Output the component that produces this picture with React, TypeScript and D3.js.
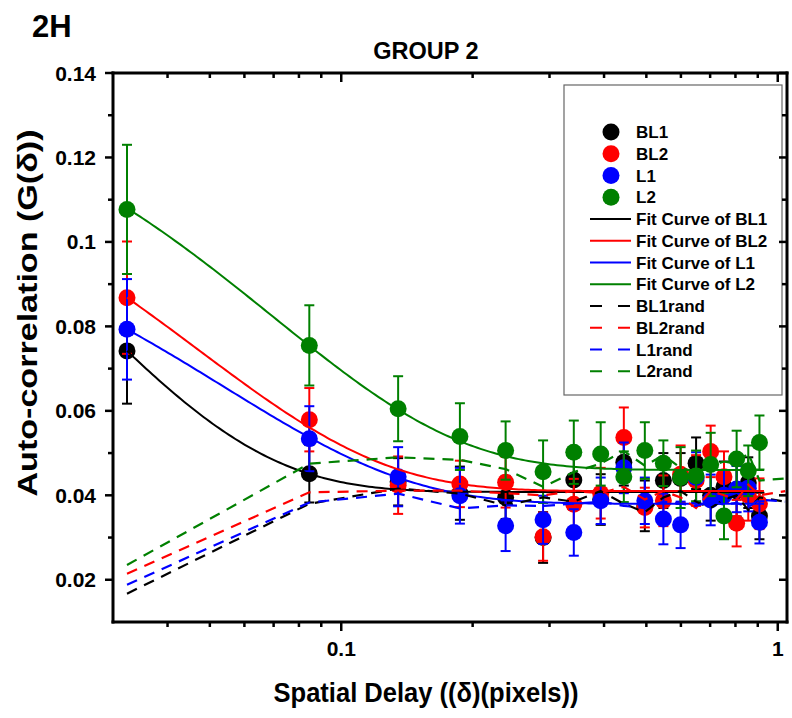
import React from 'react';
import * as d3 from 'd3';

// ---------- data ----------
const xValues = [0.0323, 0.0845, 0.135, 0.187, 0.238, 0.29, 0.341, 0.393, 0.444, 0.496, 0.547, 0.599, 0.65, 0.702, 0.753, 0.805, 0.856, 0.908];

const bl1Values = [0.0742, 0.0451, 0.0432, 0.0405, 0.0395, 0.0300, 0.0436, 0.0390, 0.0478, 0.0375, 0.0435, 0.0440, 0.0476, 0.0400, 0.0420, 0.0410, 0.0430, 0.0351];
const bl1Errors = [0.0125, 0.0068, 0.0056, 0.0063, 0.0051, 0.006, 0.006, 0.006, 0.0055, 0.006, 0.0065, 0.006, 0.0061, 0.006, 0.006, 0.006, 0.006, 0.0055];
const bl2Values = [0.0868, 0.0579, 0.0424, 0.0427, 0.0431, 0.0302, 0.0379, 0.0405, 0.0537, 0.0371, 0.0387, 0.0450, 0.0435, 0.0504, 0.0444, 0.0334, 0.0400, 0.0380];
const bl2Errors = [0.0133, 0.0075, 0.0068, 0.0055, 0.006, 0.0057, 0.006, 0.006, 0.0071, 0.0047, 0.006, 0.0068, 0.006, 0.0061, 0.006, 0.0055, 0.006, 0.006];
const l1Values = [0.0793, 0.0534, 0.0444, 0.0399, 0.0328, 0.0342, 0.0312, 0.0387, 0.0465, 0.0387, 0.0344, 0.0330, 0.0442, 0.0389, 0.0400, 0.0415, 0.0417, 0.0336];
const l1Errors = [0.0119, 0.0077, 0.007, 0.0066, 0.006, 0.0057, 0.0055, 0.0055, 0.006, 0.0055, 0.006, 0.0055, 0.006, 0.006, 0.006, 0.0055, 0.0055, 0.005];
const l2Values = [0.1077, 0.0755, 0.0605, 0.0539, 0.0506, 0.0456, 0.0502, 0.0498, 0.0444, 0.0506, 0.0476, 0.0442, 0.0446, 0.0473, 0.0351, 0.0486, 0.0458, 0.0525];
const l2Errors = [0.0153, 0.0095, 0.0077, 0.0079, 0.0069, 0.0074, 0.0075, 0.0075, 0.006, 0.0067, 0.0054, 0.0072, 0.006, 0.0075, 0.0055, 0.0067, 0.006, 0.0064];

const randX = [0.0323, 0.0845, 0.135, 0.187, 0.238, 0.29, 0.341, 0.393, 0.444, 0.496, 0.547, 0.599, 0.65, 0.702, 0.753, 0.805, 0.856, 0.908, 1.04];
const bl1Rand = [0.0167, 0.0380, 0.0416, 0.0404, 0.0376, 0.0395, 0.0385, 0.0410, 0.0380, 0.0360, 0.0395, 0.0410, 0.0385, 0.0370, 0.0390, 0.0400, 0.0365, 0.0395, 0.0385];
const bl2Rand = [0.0214, 0.0407, 0.0411, 0.0411, 0.0405, 0.0400, 0.0410, 0.0405, 0.0420, 0.0390, 0.0410, 0.0395, 0.0370, 0.0410, 0.0400, 0.0390, 0.0425, 0.0400, 0.0410];
const l1Rand = [0.0188, 0.0383, 0.0404, 0.0369, 0.0376, 0.0375, 0.0380, 0.0385, 0.0375, 0.0370, 0.0385, 0.0380, 0.0375, 0.0385, 0.0378, 0.0382, 0.0372, 0.0390, 0.0385];
const l2Rand = [0.0235, 0.0475, 0.0490, 0.0484, 0.0462, 0.0420, 0.0455, 0.0475, 0.0505, 0.0470, 0.0495, 0.0465, 0.0455, 0.0470, 0.0480, 0.0475, 0.0500, 0.0435, 0.0440];

// fit curves: y = y0 + A * exp(-(x - x0) / t)
const fitX0 = 0.0323;
const fitXEnd = 0.93;
const fitY0 = [0.0408, 0.041, 0.038, 0.046];
const fitA = [0.0334, 0.0458, 0.0413, 0.062];
const fitT = [0.0254, 0.047, 0.054, 0.070];

const seriesNames = ['BL1', 'BL2', 'L1', 'L2'];
const seriesColors = ['#000000', '#ff0000', '#0000ff', '#008000'];

const yTicks = [0.02, 0.04, 0.06, 0.08, 0.1, 0.12, 0.14];
const yTickLabels = ['0.02', '0.04', '0.06', '0.08', '0.1', '0.12', '0.14'];
const yMinorTicks = [0.03, 0.05, 0.07, 0.09, 0.11, 0.13];
const xTicks = [0.1, 1];
const xTickLabels = ['0.1', '1'];
const xMinorTicks = [0.04, 0.05, 0.06, 0.07, 0.08, 0.09, 0.2, 0.3, 0.4, 0.5, 0.6, 0.7, 0.8, 0.9];

const legendLabels = ['BL1', 'BL2', 'L1', 'L2', 'Fit Curve of BL1', 'Fit Curve of BL2', 'Fit Curve of L1', 'Fit Curve of L2', 'BL1rand', 'BL2rand', 'L1rand', 'L2rand'];

// ---------- layout ----------
const W = 792;
const H = 718;
const left = 113, right = 787, top = 73, bottom = 622;
const FONT = '"Liberation Sans", Arial, sans-serif';

export default function App() {
  const x = d3.scaleLog().domain([0.03, 1.05]).range([left, right]);
  const y = d3.scaleLinear().domain([0.01, 0.14]).range([bottom, top]);

  const series = seriesNames.map((name, i) => ({
    name,
    color: seriesColors[i],
    values: [bl1Values, bl2Values, l1Values, l2Values][i],
    errors: [bl1Errors, bl2Errors, l1Errors, l2Errors][i],
    rand: [bl1Rand, bl2Rand, l1Rand, l2Rand][i],
    y0: fitY0[i], A: fitA[i], t: fitT[i],
  }));

  const lineGen = d3.line<[number, number]>().x(d => x(d[0])).y(d => y(d[1]));

  const fitXs = d3.range(0, 201).map(k => Math.exp(Math.log(fitX0) + (Math.log(fitXEnd) - Math.log(fitX0)) * k / 200));

  const r = 8.5;
  const cap = 5;

  const legX = 564, legY = 85, legW = 218, legH = 310;
  const rowY0 = 132, rowStep = 21.75;

  return (
    <svg width={W} height={H} viewBox={`0 0 ${W} ${H}`} style={{ position: 'absolute', left: 0, top: 0, background: '#fff' }} fontFamily={FONT}>
      <rect x={0} y={0} width={W} height={H} fill="#fff" />
      <text x={32} y={37} fontSize={31} fontWeight="bold">2H</text>
      <text x={426} y={59} fontSize={23.5} fontWeight="bold" textAnchor="middle">GROUP 2</text>

      {/* scatter with error bars */}
      {series.map(s => (
        <g key={'pts-' + s.name}>
          {s.values.map((v, j) => {
            const cx = x(xValues[j]);
            const e = s.errors[j];
            return (
              <g key={j}>
                <circle cx={cx} cy={y(v)} r={r} fill={s.color} />
                <line x1={cx} x2={cx} y1={y(v + e)} y2={y(v - e)} stroke={s.color} strokeWidth={2} />
                <line x1={cx - cap} x2={cx + cap} y1={y(v + e)} y2={y(v + e)} stroke={s.color} strokeWidth={2} />
                <line x1={cx - cap} x2={cx + cap} y1={y(v - e)} y2={y(v - e)} stroke={s.color} strokeWidth={2} />
              </g>
            );
          })}
        </g>
      ))}

      {/* fit curves */}
      {series.map(s => (
        <path key={'fit-' + s.name}
          d={lineGen(fitXs.map(xx => [xx, s.y0 + s.A * Math.exp(-(xx - fitX0) / s.t)] as [number, number])) || ''}
          fill="none" stroke={s.color} strokeWidth={2} />
      ))}

      {/* random dashed lines */}
      {series.map(s => (
        <path key={'rand-' + s.name}
          d={lineGen(randX.map((xx, j) => [xx, s.rand[j]] as [number, number])) || ''}
          fill="none" stroke={s.color} strokeWidth={2.2} strokeDasharray="11,8" />
      ))}

      {/* legend */}
      <rect x={legX} y={legY} width={legW} height={legH} fill="#fff" stroke="#666" strokeWidth={1.2} />
      {legendLabels.map((lab, k) => {
        const cy = rowY0 + k * rowStep;
        const ci = k % 4;
        const col = seriesColors[ci];
        return (
          <g key={'leg-' + k}>
            {k < 4 && <circle cx={611} cy={cy} r={8.5} fill={col} />}
            {k >= 4 && k < 8 && <line x1={590} x2={631} y1={cy} y2={cy} stroke={col} strokeWidth={2} />}
            {k >= 8 && <line x1={590} x2={631} y1={cy} y2={cy} stroke={col} strokeWidth={2} strokeDasharray="12,16" />}
            <text x={636} y={cy + 6} fontSize={17} fontWeight="bold">{lab}</text>
          </g>
        );
      })}

      {/* axes frame */}
      <g stroke="#000" strokeLinecap="square">
        <line x1={left} x2={right} y1={bottom} y2={bottom} strokeWidth={3} />
        <line x1={left} x2={right} y1={top} y2={top} strokeWidth={3} />
        <line x1={left} x2={left} y1={top} y2={bottom} strokeWidth={3} />
        <line x1={right} x2={right} y1={top} y2={bottom} strokeWidth={3} />
      </g>
      {/* y ticks */}
      {yTicks.map((t, i) => (
        <g key={'yt' + i}>
          <line x1={left - 8} x2={left} y1={y(t)} y2={y(t)} stroke="#000" strokeWidth={2.5} />
          <line x1={right - 8} x2={right} y1={y(t)} y2={y(t)} stroke="#000" strokeWidth={2.5} />
          <text x={96} y={y(t) + 7.5} fontSize={21} fontWeight="bold" textAnchor="end">{yTickLabels[i]}</text>
        </g>
      ))}
      {yMinorTicks.map((t, i) => (
        <g key={'ym' + i}>
          <line x1={left - 5} x2={left} y1={y(t)} y2={y(t)} stroke="#000" strokeWidth={2.5} />
          <line x1={right - 5} x2={right} y1={y(t)} y2={y(t)} stroke="#000" strokeWidth={2.5} />
        </g>
      ))}
      {/* x ticks */}
      {xTicks.map((t, i) => (
        <g key={'xt' + i}>
          <line x1={x(t)} x2={x(t)} y1={bottom} y2={bottom + 9} stroke="#000" strokeWidth={2.5} />
          <line x1={x(t)} x2={x(t)} y1={top} y2={top + 9} stroke="#000" strokeWidth={2.5} />
          <text x={x(t)} y={656} fontSize={21} fontWeight="bold" textAnchor="middle">{xTickLabels[i]}</text>
        </g>
      ))}
      {xMinorTicks.map((t, i) => (
        <g key={'xm' + i}>
          <line x1={x(t)} x2={x(t)} y1={bottom} y2={bottom + 5} stroke="#000" strokeWidth={2.5} />
          <line x1={x(t)} x2={x(t)} y1={top} y2={top + 5} stroke="#000" strokeWidth={2.5} />
        </g>
      ))}

      {/* axis titles */}
      <text x={426} y={702} fontSize={28} fontWeight="bold" textAnchor="middle" textLength={305} lengthAdjust="spacingAndGlyphs">Spatial Delay ((δ)(pixels))</text>
      <text transform={`translate(37, 313) rotate(-90)`} fontSize={28} fontWeight="bold" textAnchor="middle" textLength={367} lengthAdjust="spacingAndGlyphs">Auto-correlation (G(δ))</text>
    </svg>
  );
}
